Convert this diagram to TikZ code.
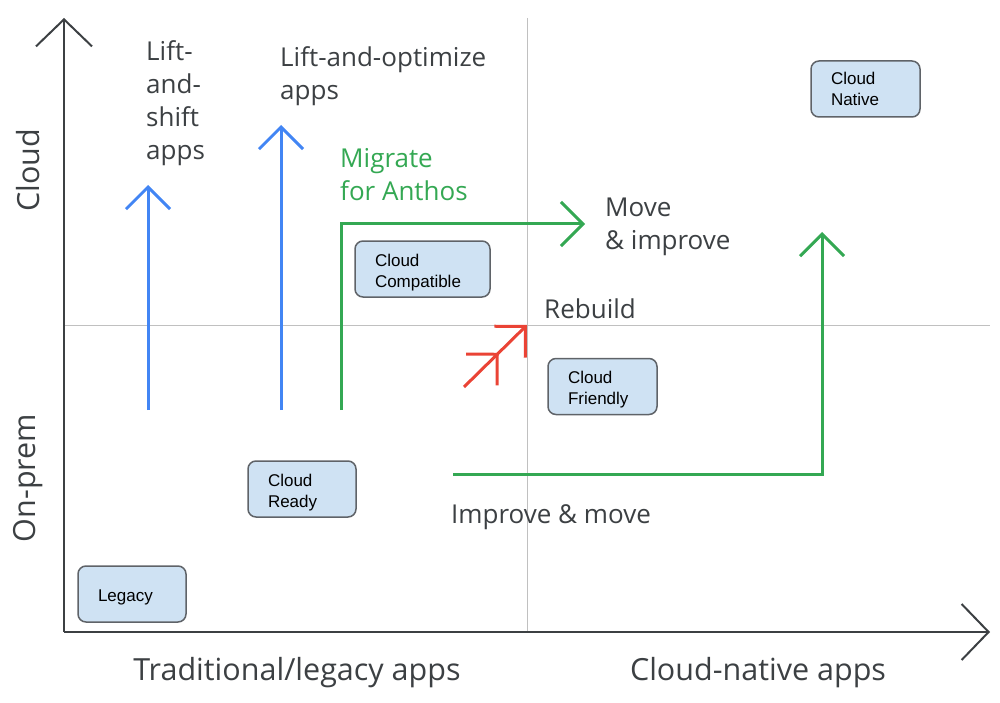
\documentclass[tikz,border=0pt]{standalone}
\usepackage{fontspec}
\setmainfont{Liberation Sans}
\newfontfamily\labfont{Open Sans}
\usetikzlibrary{arrows.meta}
\definecolor{gblue}{HTML}{4285F4}
\definecolor{ggreen}{HTML}{34A853}
\definecolor{gred}{HTML}{EA4335}
\definecolor{boxfill}{HTML}{CFE2F3}
\definecolor{boxline}{HTML}{5F6368}
\definecolor{axisc}{HTML}{3C4043}
\definecolor{gridc}{HTML}{C0C0C0}
\begin{document}
\begin{tikzpicture}[x=1pt,y=-1pt,
  app/.style={draw=boxline, line width=1.5pt, fill=boxfill, rounded corners=8pt,
    minimum height=56pt, inner ysep=0pt, inner xsep=20pt, align=left, text=black,
    font=\fontsize{17}{20.7}\selectfont},
  lowtext/.style={execute at begin node={\rule{0pt}{19pt}}},
  lab/.style={anchor=west, inner sep=0pt, align=left, text=axisc,
    font=\labfont\fontsize{26}{33}\selectfont},
  axlab/.style={inner sep=0pt, text=axisc, font=\labfont\fontsize{30.5}{33}\selectfont},
  axisline/.style={draw=axisc, line width=2pt, -{Straight Barb[length=27pt,width=56pt]}},
  gridline/.style={draw=gridc, line width=1pt},
  mover/.style={line width=3pt, -{Straight Barb[length=22pt,width=44pt]}},
]
\useasboundingbox (0,0) rectangle (1000,703);

% grid
\coordinate (gvt) at (527,18);
\coordinate (gvb) at (527,632);
\coordinate (ghl) at (64,325);
\coordinate (ghr) at (990,325);
\draw[gridline] (gvt) -- (gvb);
\draw[gridline] (ghl) -- (ghr);

% axes
\coordinate (origin) at (64,632);
\coordinate (ytip) at (64,18);
\coordinate (xtip) at (990,632);
\draw[axisline] (origin) -- (ytip);
\draw[axisline] (origin) -- (xtip);

% axis labels
\node[axlab, rotate=90] (cloudlab) at (28,170) {Cloud};
\node[axlab, rotate=90] (onpremlab) at (28,478) {On-prem};
\node[axlab] (tradlab) at (297,673) {Traditional/legacy apps};
\node[axlab] (natlab) at (758,673) {Cloud-native apps};

% boxes
\node[app, lowtext, minimum width=108pt, text width=68pt] (legacy) at (132,594) {Legacy};
\node[app, lowtext, minimum width=108pt, text width=68pt] (ready) at (302,489) {Cloud\\Ready};
\node[app, lowtext, minimum width=135pt, text width=95pt] (compat) at (422.5,269) {Cloud\\Compatible};
\node[app, lowtext, minimum width=109pt, text width=69pt] (friendly) at (602.5,386.5) {Cloud\\Friendly};
\node[app, minimum width=109pt, text width=69pt] (native) at (865.5,89) {Cloud\\Native};

% labels
\node[lab] (liftshift) at (146,103) {Lift-\\and-\\shift\\apps};
\node[lab] (liftopt) at (280,76.5) {Lift-and-optimize\\apps};
\node[lab, text=ggreen] (migrate) at (340,175) {Migrate\\for Anthos};
\node[lab] (moveimp) at (605,226.5) {Move\\\& improve};
\node[lab] (rebuild) at (544,309) {Rebuild};
\node[lab] (impmove) at (451,517) {Improve \& move};

% blue arrows
\coordinate (b1s) at (148,410);
\coordinate (b1e) at (148,185);
\coordinate (b2s) at (281,410);
\coordinate (b2e) at (281,125);
\draw[mover, gblue] (b1s) -- (b1e);
\draw[mover, gblue] (b2s) -- (b2e);

% green arrows
\coordinate (g1s) at (341,410);
\coordinate (g1c) at (341,224);
\coordinate (g1e) at (585,224);
\draw[mover, ggreen] (g1s) -- (g1c) -- (g1e);
\coordinate (g2s) at (453,474);
\coordinate (g2c) at (822,474);
\coordinate (g2e) at (822,232);
\draw[mover, ggreen] (g2s) -- (g2c) -- (g2e);

% red arrow
\coordinate (rs) at (464,387);
\coordinate (re) at (527,325);
\draw[line width=3pt, gred, -{Straight Barb[length=22pt,width=44pt,sep=14pt]Straight Barb[length=22pt,width=44pt]}] (rs) -- (re);
\end{tikzpicture}
\end{document}
